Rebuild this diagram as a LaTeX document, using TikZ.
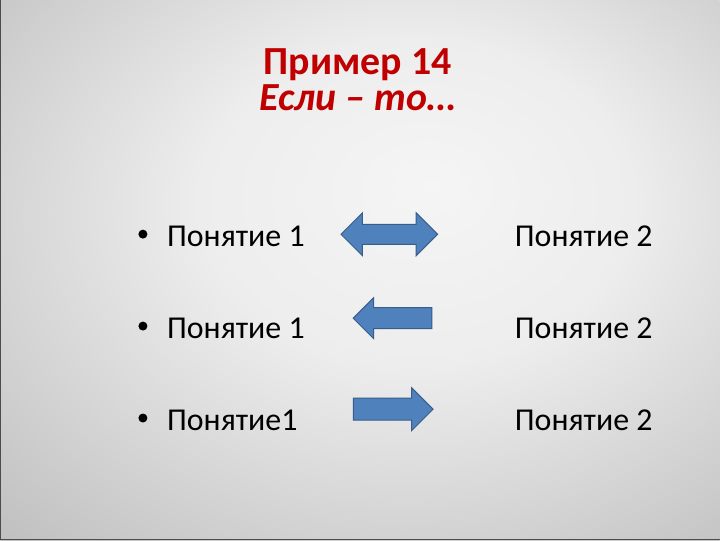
\documentclass[tikz,border=0pt]{standalone}
\usepackage{fontspec}
\setmainfont{Carlito}
\usetikzlibrary{shapes.arrows}
\definecolor{Title-red}{RGB}{192,0,0}
\definecolor{Arrow-fill}{RGB}{79,129,189}
\definecolor{Arrow-line}{RGB}{56,93,138}
\definecolor{Slide-mid}{RGB}{172,172,172}
\definecolor{Slide-edge}{RGB}{148,148,148}
\pgfdeclareradialshading{slidebg}{\pgfpoint{5bp}{8bp}}{color(0bp)=(white!96!black); color(15bp)=(white!93!black); color(50bp)=(Slide-mid); color(72bp)=(Slide-edge)}

\begin{document}
\begin{tikzpicture}[x=1bp, y=-1bp]
    \tikzset{ ttl/.style ={text=Title-red, font=\fontsize{40}{40}\selectfont\bfseries, inner sep=0pt} }
    \tikzset{ itm/.style ={text=black, font=\fontsize{32}{32}\selectfont, inner sep=0pt, anchor=base west} }
    \tikzset{ blk/.style ={draw=Arrow-line, fill=Arrow-fill, line width=1pt, inner sep=0pt} }

    % slide background
    \shade[shading=slidebg] (0,0) rectangle (720,540);
    \draw[gray!60!black, line width=0.8pt] (0.4,0) -- (0.4,539.6) -- (720,539.6);
    \useasboundingbox (0,0) rectangle (720,540);

    \node[ttl, anchor=base] (head) at (358, 74) {Пример 14};
    \node[ttl, anchor=base] (sub) at (358, 110) {\itshape Если – то…};

    \node[itm] (a1) at (167, 246) {Понятие 1};
    \node[itm] (a2) at (167, 338) {Понятие 1};
    \node[itm] (a3) at (167, 430) {Понятие1};
    \node[itm] (b1) at (515, 246) {Понятие 2};
    \node[itm] (b2) at (515, 338) {Понятие 2};
    \node[itm] (b3) at (515, 430) {Понятие 2};

    \foreach \r in {1,2,3}
      \fill (a\r.west) ++(-24,-2) circle (4.5);

    \node[blk, double arrow, minimum height=97, double arrow head extend=11.5] (both) at (389.5, 234) {\rule{0pt}{19bp}};
    \node[blk, single arrow, shape border rotate=180, minimum height=79, single arrow head extend=10] (left) at (398, 318) {\rule{0pt}{20bp}};
    \node[blk, single arrow, minimum height=80, single arrow head extend=10.5] (right) at (388, 409) {\rule{0pt}{21bp}};
\end{tikzpicture}
\end{document}
